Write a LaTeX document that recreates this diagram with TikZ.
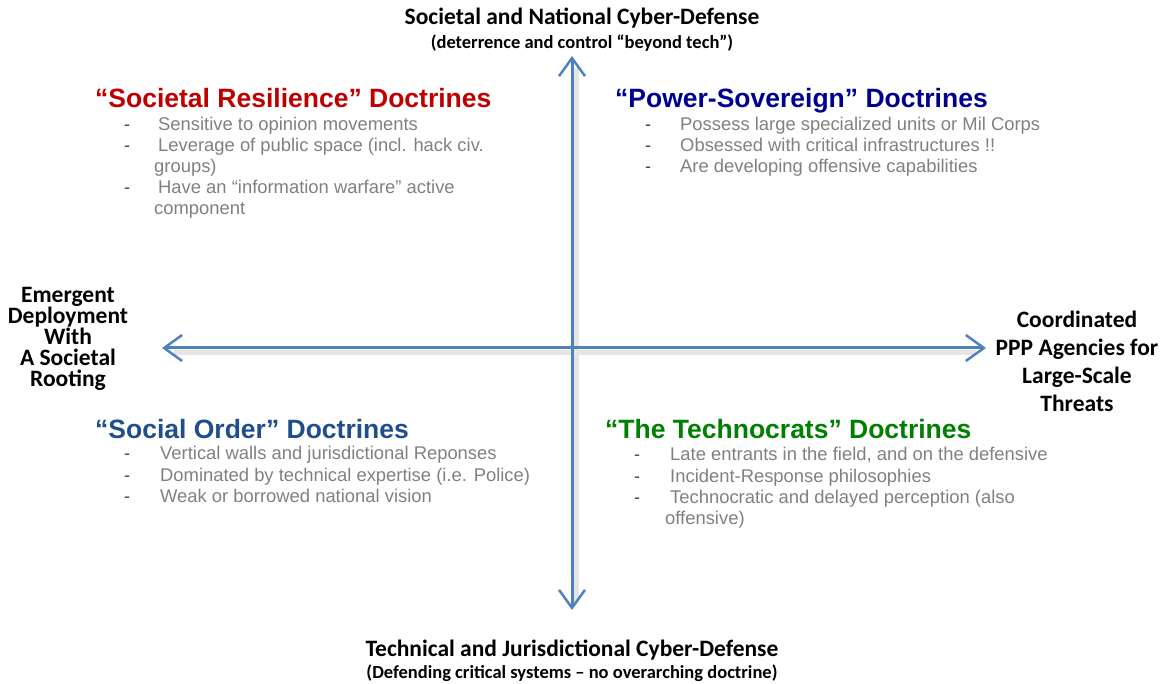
\documentclass[tikz,border=0pt]{standalone}
\usepackage{fontspec}
\setmainfont{Liberation Sans}
\newfontfamily\calfont{Carlito}
\usetikzlibrary{arrows.meta}
\definecolor{axisblue}{HTML}{4F81BD}
\definecolor{resred}{HTML}{C00000}
\definecolor{sovblue}{HTML}{000090}
\definecolor{ordblue}{HTML}{1F4E8C}
\definecolor{techgreen}{HTML}{008000}
\definecolor{bulgray}{HTML}{808080}
\tikzset{
  axis/.style={draw=axisblue, line width=3pt, {Straight Barb[length=18pt,width=26pt,line width=2.5pt]}-{Straight Barb[length=18pt,width=26pt,line width=2.5pt]}},
  shadowline/.style={draw=black!10, line width=5pt},
  axislabel/.style={font=\calfont\bfseries\fontsize{23.5}{21}\selectfont, align=center, inner sep=0pt},
  axissub/.style={font=\calfont\bfseries\fontsize{18.5}{20}\selectfont, inner sep=0pt},
  header/.style={font=\bfseries\fontsize{26.5}{28}\selectfont, anchor=base west, inner sep=0pt},
  bullet/.style={font=\fontsize{18.4}{20}\selectfont, text=bulgray, anchor=base west, inner sep=0pt},
  dashmark/.style={font=\fontsize{18}{20}\selectfont, text=black!75, anchor=base west, inner sep=0pt}
}
\begin{document}
\begin{tikzpicture}[x=1pt,y=-1pt]
\path[use as bounding box] (0,0) rectangle (1163,684);
% axes
\coordinate (L) at (162,348);
\coordinate (R) at (986,348);
\coordinate (T) at (572,56);
\coordinate (B) at (572,610);
\draw[shadowline] ([shift={(12,5)}]L) -- ([shift={(-10,5)}]R);
\draw[shadowline] ([shift={(4,12)}]T) -- ([shift={(4,-8)}]B);
\draw[axis] (L) -- (R);
\draw[axis] (T) -- (B);
% axis labels
\node[axislabel] (top) at (582,18) {Societal and National Cyber-Defense};
\node[axissub] (topsub) at (582,43) {(deterrence and control “beyond tech”)};
\node[axislabel] (bot) at (572,650) {Technical and Jurisdictional Cyber-Defense};
\node[axissub] (botsub) at (572,673) {(Defending critical systems – no overarching doctrine)};
\node[axislabel] (left) at (68,339) {Emergent\\Deployment\\With\\A Societal\\Rooting};
\node[axislabel, font=\calfont\bfseries\fontsize{23.5}{28}\selectfont] (right) at (1077,361) {Coordinated\\PPP Agencies for\\Large-Scale\\Threats};
% Q1
\node[header, text=resred] (h1) at (95,108) {“Societal Resilience” Doctrines};
\node[dashmark] (d11) at (124,131) {-};
\node[bullet] (b11) at (158,131) {Sensitive to opinion movements};
\node[dashmark] (d12) at (124,152) {-};
\node[bullet] (b12) at (158,152) {Leverage of public space (incl. hack civ.};
\node[bullet] (b12b) at (154,173) {groups)};
\node[dashmark] (d13) at (124,194) {-};
\node[bullet] (b13) at (158,194) {Have an “information warfare” active};
\node[bullet] (b13b) at (154,215) {component};
% Q2
\node[header, text=sovblue] (h2) at (615,108) {“Power-Sovereign” Doctrines};
\node[dashmark] (d21) at (645,131) {-};
\node[bullet] (b21) at (680,131) {Possess large specialized units or Mil Corps};
\node[dashmark] (d22) at (645,152) {-};
\node[bullet] (b22) at (680,152) {Obsessed with critical infrastructures !!};
\node[dashmark] (d23) at (645,173) {-};
\node[bullet] (b23) at (680,173) {Are developing offensive capabilities};
% Q3
\node[header, text=ordblue] (h3) at (95,439) {“Social Order” Doctrines};
\node[dashmark] (d31) at (124,460) {-};
\node[bullet] (b31) at (160,460) {Vertical walls and jurisdictional Reponses};
\node[dashmark] (d32) at (124,482) {-};
\node[bullet] (b32) at (160,482) {Dominated by technical expertise (i.e. Police)};
\node[dashmark] (d33) at (124,503) {-};
\node[bullet] (b33) at (160,503) {Weak or borrowed national vision};
% Q4
\node[header, text=techgreen] (h4) at (605,439) {“The Technocrats” Doctrines};
\node[dashmark] (d41) at (634,461) {-};
\node[bullet] (b41) at (670,461) {Late entrants in the field, and on the defensive};
\node[dashmark] (d42) at (634,483) {-};
\node[bullet] (b42) at (670,483) {Incident-Response philosophies};
\node[dashmark] (d43) at (634,504) {-};
\node[bullet] (b43) at (670,504) {Technocratic and delayed perception (also};
\node[bullet] (b43b) at (665,525) {offensive)};
\end{tikzpicture}
\end{document}
